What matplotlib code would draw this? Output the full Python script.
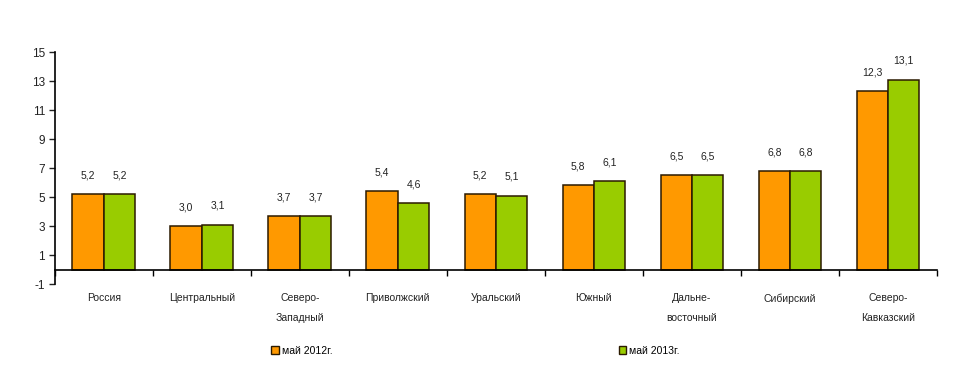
import numpy as np
import matplotlib.pyplot as plt
from matplotlib.patches import Patch

regions = ["Россия", "Центральный", "Северо-\nЗападный", "Приволжский", "Уральский",
           "Южный", "Дальне-\nвосточный", "Сибирский", "Северо-\nКавказский"]
may_2012 = [5.2, 3.0, 3.7, 5.4, 5.2, 5.8, 6.5, 6.8, 12.3]
may_2013 = [5.2, 3.1, 3.7, 4.6, 5.1, 6.1, 6.5, 6.8, 13.1]
series_names = ["май 2012г.", "май 2013г."]

orange = "#FF9900"
green = "#99CC00"
edge = "#2b1a00"

plt.rcParams['font.family'] = ['Liberation Sans', 'DejaVu Sans']
plt.rcParams['axes.unicode_minus'] = False

fig = plt.figure(figsize=(9.61, 3.69), dpi=100)
ax = fig.add_axes([0.057, 0.230, 0.918, 0.629])

x = np.arange(len(regions)) + 0.5
w = 0.32
b1 = ax.bar(x - w / 2, may_2012, w, color=orange, edgecolor=edge, linewidth=1.1)
b2 = ax.bar(x + w / 2, may_2013, w, color=green, edgecolor=edge, linewidth=1.1)

for bars, vals in ((b1, may_2012), (b2, may_2013)):
    for r, v in zip(bars, vals):
        ax.annotate(f"{v:.1f}".replace(".", ","),
                    (r.get_x() + r.get_width() / 2, v),
                    xytext=(0, 10), textcoords="offset points",
                    ha="center", va="bottom", fontsize=7.5, color="#222222")

ax.set_xlim(0, len(regions))
ax.set_ylim(-1, 15)
ax.set_yticks(np.arange(-1, 16, 2))
ax.tick_params(axis='y', labelsize=8.5, length=4, width=1, colors="#222222", pad=3)

ax.spines['top'].set_visible(False)
ax.spines['right'].set_visible(False)
ax.spines['bottom'].set_position(('data', 0))
ax.spines['left'].set_linewidth(1.2)
ax.spines['bottom'].set_linewidth(1.2)

ax.set_xticks(np.arange(0, len(regions) + 1))
ax.set_xticklabels([])
ax.set_xticks(x, minor=True)
ax.set_xticklabels(regions, minor=True, fontsize=7.5, linespacing=2.2, color="#222222")
ax.tick_params(axis='x', which='major', length=4, width=1, direction='out')
ax.tick_params(axis='x', which='minor', length=0, pad=17)
for lbl in ax.get_xticklabels(minor=True):
    lbl.set_verticalalignment('top')

handles = [Patch(facecolor=orange, edgecolor=edge), Patch(facecolor=green, edgecolor=edge)]
fig.legend(handles, series_names, loc='center', bbox_to_anchor=(0.495, 0.05), ncol=2,
           frameon=False, fontsize=7.5, handlelength=0.7, handleheight=0.7,
           handletextpad=0.3, columnspacing=27.5)

fig.savefig("out.png", dpi=100)
